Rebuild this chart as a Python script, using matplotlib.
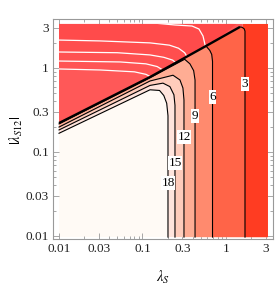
import numpy as np
import matplotlib
matplotlib.use('Agg')
import matplotlib.pyplot as plt
from matplotlib.patches import Polygon
from matplotlib.ticker import FixedLocator, NullFormatter

plt.rcParams['font.family'] = ['Liberation Serif', 'DejaVu Serif']
plt.rcParams['mathtext.fontset'] = 'stix'

# scanned domain
s_lo, s_hi = 0.01, 3.18
s12_lo, s12_hi = 0.0097, 3.34

# thick boundary line between the two regions
edge_s = [0.01, 0.123, 0.561, 1.47]
edge_s12 = [0.221, 0.78, 1.80, 3.08]

# black contours below the boundary
levels = [3, 6, 9, 12, 15, 18]
c3_s = [1.47, 1.56, 1.65, 1.69, 1.69]
c3_s12 = [3.08, 3.05, 2.93, 2.75, 0.0097]
c6_s = [0.69, 0.69, 0.675, 0.64, 0.575]
c6_s12 = [0.0097, 1.2, 1.45, 1.62, 1.83]
c9_s = [0.426, 0.426, 0.41, 0.37, 0.32, 0.123, 0.01]
c9_s12 = [0.0097, 0.72, 0.93, 1.12, 1.27, 0.765, 0.216]
c12_s = [0.314, 0.314, 0.305, 0.281, 0.232, 0.123, 0.01]
c12_s12 = [0.0097, 0.416, 0.578, 0.72, 0.82, 0.70, 0.198]
c15_s = [0.245, 0.245, 0.238, 0.213, 0.176, 0.123, 0.01]
c15_s12 = [0.0097, 0.36, 0.48, 0.60, 0.66, 0.62, 0.183]
c18_s = [0.202, 0.202, 0.195, 0.18, 0.16, 0.123, 0.01]
c18_s12 = [0.0097, 0.27, 0.38, 0.47, 0.54, 0.55, 0.167]
contours = [(c3_s, c3_s12), (c6_s, c6_s12), (c9_s, c9_s12),
            (c12_s, c12_s12), (c15_s, c15_s12), (c18_s, c18_s12)]
band_colors = ['#ff3c22', '#ff6448', '#ff8a6e', '#ffad94', '#ffccbb', '#ffe4dc']
inner_color = '#fffaf5'

# label positions along the vertical parts
label_s = [1.69, 0.69, 0.426, 0.314, 0.245, 0.202]
label_s12 = [0.645, 0.452, 0.268, 0.151, 0.074, 0.0428]

# white contours above the boundary
w0_s = [1.60, 1.60]
w0_s12 = [3.0, 3.34]
w1_s = [0.15, 0.245, 0.392, 0.475, 0.531, 0.575]
w1_s12 = [3.40, 3.25, 3.16, 2.91, 2.40, 1.70]
w2_s = [0.01, 0.031, 0.123, 0.21, 0.27, 0.32, 0.36]
w2_s12 = [2.15, 2.10, 1.99, 1.87, 1.72, 1.52, 1.25]
w3_s = [0.01, 0.05, 0.123, 0.18, 0.23, 0.265]
w3_s12 = [1.55, 1.52, 1.43, 1.34, 1.24, 1.10]
w4_s = [0.01, 0.054, 0.11, 0.15, 0.19]
w4_s12 = [1.21, 1.18, 1.12, 1.04, 0.90]
w5_s = [0.01, 0.031, 0.08, 0.11, 0.14]
w5_s12 = [0.973, 0.947, 0.90, 0.84, 0.74]
white_lines = [(w1_s, w1_s12), (w2_s, w2_s12), (w3_s, w3_s12),
               (w4_s, w4_s12), (w5_s, w5_s12)]
upper_colors = ['#ff4848', '#ff4b4b', '#ff4e4e', '#ff5151', '#ff5454', '#ff5858']

fig = plt.figure(figsize=(2.78, 2.85), dpi=100)
ax = fig.add_axes([53 / 278, 1 - 238.5 / 285, 220 / 278, 219.5 / 285])
ax.set_xscale('log')
ax.set_yscale('log')
ax.set_xlim(0.00847, 3.66)
ax.set_ylim(0.00933, 3.83)

# lower region: paint from the innermost level outwards
ax.add_patch(Polygon([(s_lo, s12_lo), (s_lo, s12_hi), (s_hi, s12_hi), (s_hi, s12_lo)],
                     closed=True, fc=inner_color, ec='none', zorder=1))
for (cs, cs12), col in reversed(list(zip(contours, band_colors))):
    pts = list(zip(cs, cs12))
    if cs is c3_s:
        pts = pts[::-1][:-1] + [(1.60, 3.0), (1.60, s12_hi)]
    else:
        pts = pts + [(s_lo, s12_hi)]
    pts = pts + [(s_hi, s12_hi), (s_hi, s12_lo)]
    ax.add_patch(Polygon(pts, closed=True, fc=col, ec='none', zorder=2))

# upper region
upper_pts = list(zip(edge_s, edge_s12)) + [(1.60, 3.0), (1.60, s12_hi), (s_lo, s12_hi)]
upper = Polygon(upper_pts, closed=True, fc=upper_colors[-1], ec='none', zorder=3)
ax.add_patch(upper)
for (ws, ws12), col in zip(white_lines[::-1], upper_colors[-2::-1]):
    pts = list(zip(ws, ws12)) + [(s_hi, s12_hi * 2), (s_lo, s12_hi * 2)]
    p = Polygon(pts, closed=True, fc=col, ec='none', zorder=3)
    ax.add_patch(p)
    p.set_clip_path(upper)

for ws, ws12 in white_lines + [(w0_s, w0_s12)]:
    ln, = ax.plot(ws, ws12, color='white', lw=0.9, zorder=4)
    ln.set_clip_path(upper)

for cs, cs12 in contours:
    ax.plot(cs, cs12, color='black', lw=0.8, zorder=5)
ax.plot(edge_s, edge_s12, color='black', lw=1.7, zorder=6, solid_capstyle='butt')

for lv, xs, ys in zip(levels, label_s, label_s12):
    ax.text(xs, ys, str(lv), ha='center', va='center', fontsize=9.5, zorder=7,
            bbox=dict(boxstyle='square,pad=0.05', fc='white', ec='none'))

ticks = [0.01, 0.03, 0.1, 0.3, 1, 3]
labels = ['0.01', '0.03', '0.1', '0.3', '1', '3']
minor = [m * 10.0 ** e for e in (-2, -1, 0) for m in range(1, 10)
         if m * 10.0 ** e not in ticks and m * 10.0 ** e < 3.7]
for axis in (ax.xaxis, ax.yaxis):
    axis.set_major_locator(FixedLocator(ticks))
    axis.set_minor_locator(FixedLocator(minor))
    axis.set_minor_formatter(NullFormatter())
ax.set_xticklabels(labels)
ax.set_yticklabels(labels)
ax.tick_params(which='both', direction='in', top=True, right=True,
               color='#999999', width=0.6, labelsize=9.5, labelcolor='#222222', pad=3)
ax.tick_params(which='major', length=4)
ax.tick_params(which='minor', length=2)
for sp in ax.spines.values():
    sp.set_color('#999999')
    sp.set_linewidth(0.8)

fig.text(163 / 278, 1 - 277 / 285, r'$\lambda_S$', ha='center', va='center', fontsize=10.5)
fig.text(16 / 278, 1 - 130 / 285, r'$|\lambda_{S12}|$', ha='center', va='center',
         rotation=90, fontsize=10.5)

fig.savefig('out.png', dpi=100)
